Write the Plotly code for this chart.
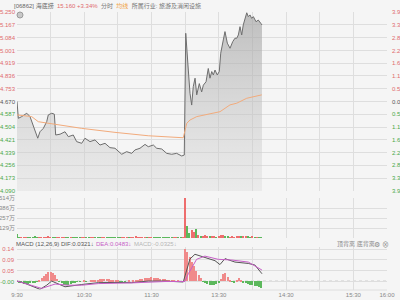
import numpy as np
import plotly.graph_objects as go

W, H = 400, 300

# ---------------- data (minutes since 9:30, lunch break removed) ----------------
price_min = [0, 1.2, 4.2, 8.7, 11.6, 14.5, 18.5, 20.5, 23.5, 26.5, 27.9, 31, 33.3, 34.5, 38.4, 42.8,
             45.8, 50.2, 53.2, 57.7, 60.6, 65.1, 69.6, 74, 78.5, 82.9, 87.4, 93.4, 97.8, 102.3,
             105.2, 109.7, 114.2, 117.1, 121.6, 124.6, 129.1, 133.5, 138, 142.4, 146.9, 149.2,
             150.5, 152.8, 154.3, 155.8, 157.2, 158.8, 160.3, 162.6, 164.7, 166.2, 168.6, 170.6,
             172.1, 173.7, 175.1, 176.6, 178.6, 180.4, 181.7, 184, 185.5, 187.6, 190, 192.4, 194.4,
             196, 197.4, 198.9, 200.4, 201.8, 204.9, 206.3, 207.8, 209.3, 210.8, 213.2, 215.2,
             217.4, 218.5]
price_val = [4.670, 4.561, 4.572, 4.594, 4.572, 4.507, 4.432, 4.474, 4.496, 4.539, 4.583, 4.594, 4.588,
             4.453, 4.458, 4.474, 4.442, 4.453, 4.410, 4.399, 4.432, 4.410, 4.421, 4.388, 4.399,
             4.371, 4.367, 4.328, 4.345, 4.334, 4.356, 4.367, 4.392, 4.377, 4.388, 4.367, 4.362,
             4.334, 4.328, 4.334, 4.317, 4.323,
             5.112, 4.874, 4.723, 4.647, 4.766, 4.821, 4.713, 4.786, 4.732, 4.776, 4.798, 4.884,
             4.821, 4.864, 4.842, 4.874, 4.842, 4.864, 4.983, 5.069, 5.123, 5.048, 5.015, 5.058,
             5.080, 5.080, 5.101, 5.155, 5.101, 5.166, 5.245, 5.220, 5.231, 5.209, 5.220, 5.187,
             5.198, 5.177, 5.166]

avg_min = [0, 7.1, 13.1, 19, 27.9, 36.8, 57.7, 87.4, 117.1, 148.3, 150.5, 151.4, 154.3, 160.3,
           181.1, 190, 196, 204.9, 218.3]
avg_val = [4.583, 4.578, 4.572, 4.539, 4.529, 4.522, 4.496, 4.470, 4.448, 4.435, 4.500, 4.529,
           4.550, 4.572, 4.604, 4.648, 4.659, 4.691, 4.713]

vol_min = list(range(0, 220, 2))
vol_val = [50, 12, 8, 6, 10, 5, 8, 12, 14, 8, 6, 5, 8, 12, 14, 6, 5, 10, 4, 5,
           3, 4, 6, 3, 3, 4, 5, 3, 3, 4, 6, 3, 3, 2, 4, 3, 3, 2, 4, 3,
           3, 5, 3, 2, 3, 3, 4, 2, 3, 3, 2, 4, 3, 14, 6, 3, 4, 3, 3, 2,
           3, 3, 2, 3, 3, 2, 3, 4, 2, 3, 3, 2, 3, 4, 6, 514, 155, 60, 100, 80,
           120, 40, 30, 25, 35, 20, 25, 15, 20, 12, 30, 40, 35, 20, 15, 12, 18, 10, 15, 20,
           25, 15, 30, 20, 12, 15, 10, 8, 12, 10]

macd_min = list(range(0, 220, 2))
macd_hist = [-0.002, -0.006, -0.010, -0.012, -0.013, -0.012, -0.010, -0.008, -0.005, -0.002,
             0.004, 0.012, 0.022, 0.032, 0.038, 0.040, 0.036, 0.025, 0.010, -0.004,
             -0.010, -0.015, -0.017, -0.016, -0.013, -0.009, -0.005, -0.003, -0.002, 0.000,
             0.001, -0.001, 0.000, 0.001, 0.002, 0.003, 0.005, 0.007, 0.008, 0.009,
             0.009, 0.008, 0.006, 0.004, 0.003, 0.001, -0.001, -0.002, -0.001, 0.000,
             0.001, 0.000, 0.001, 0.003, 0.005, 0.008, 0.010, 0.012, 0.014, 0.015,
             0.016, 0.015, 0.014, 0.013, 0.011, 0.010, 0.008, 0.006, 0.004, 0.002,
             0.001, 0.000, 0.001, 0.000, -0.001, 0.142, 0.125, 0.105, 0.085, 0.065,
             0.045, 0.028, 0.012, -0.004, -0.010, -0.014, -0.016, -0.017, -0.015, -0.012,
             -0.008, 0.010, 0.030, 0.034, 0.018, 0.004, -0.003, -0.005, 0.006, 0.012,
             0.004, -0.006, -0.010, -0.013, -0.015, -0.018, -0.020, -0.023, -0.026, -0.031]

dif_min = [0, 7.1, 20.5, 26.5, 30.9, 36.9, 42.8, 57.7, 72.5, 87.4, 102.3, 117.1, 132, 148.3,
           151.3, 154.2, 158.7, 164.7, 176.6, 181, 185.5, 194.4, 206.3, 212.2, 218.5]
dif_val = [0.0, -0.010, -0.036, -0.018, 0.0, -0.013, -0.025, -0.015, -0.007, -0.006, -0.007,
           0.0, 0.0, -0.004, 0.046, 0.096, 0.117, 0.108, 0.089, 0.072, 0.098, 0.083, 0.077,
           0.070, 0.032]
dea_min = [0, 16, 22, 34, 45.8, 57.7, 72.5, 102.3, 132, 149.8, 152.8, 160.2, 167.6, 179.5,
           191.4, 206.3, 218.5]
dea_val = [0.0, -0.025, -0.032, -0.013, -0.018, -0.018, -0.011, -0.008, -0.002, -0.002, 0.032,
           0.095, 0.109, 0.095, 0.092, 0.083, 0.048]

price_ticks = [5.250, 5.167, 5.084, 5.001, 4.919, 4.836, 4.753, 4.670,
               4.587, 4.504, 4.421, 4.339, 4.256, 4.173, 4.090]
pct_labels = ["3.92%", "3.36%", "2.80%", "2.24%", "1.68%", "1.12%", "0.56%", "0.00%",
              "0.56%", "1.12%", "1.68%", "2.24%", "2.80%", "3.36%", "3.92%"]
vol_ticks = [0, 128.5, 257, 385.5, 514]
vol_labels = ["", "129万", "257万", "386万", "514万"]
macd_ticks = [-0.0025, 0.045, 0.0925, 0.14]
macd_labels = ["-0.00", "0.05", "0.09", "0.14"]
time_ticks = list(range(0, 331, 30))
time_labels = ["9:30", "", "10:30", "", "11:30", "", "13:30", "", "14:30", "", "15:30", "16:00"]
base_price = 4.670

# ---------------- styling ----------------
RED = "#e06a6e"
GREEN = "#4aa84a"
GRID = "#dedede"
FONT = "Liberation Sans, Noto Sans CJK SC, sans-serif"
FS = 6
BG = "#f5f5f5"


def px_x(x):
    return x / W


def px_y(y):
    return 1 - y / H


def colored(vals, labels, base):
    out = []
    for v, l in zip(vals, labels):
        if abs(v - base) < 1e-9:
            c = "#555"
        elif v > base:
            c = RED
        else:
            c = GREEN
        out.append(f"<span style='color:{c}'>{l}</span>")
    return out


XDOM = [px_x(17), px_x(387)]

fig = go.Figure()

# price line with gradient fill
fig.add_trace(go.Scatter(
    x=price_min, y=price_val, mode="lines", xaxis="x", yaxis="y",
    line=dict(color="#6e6e6e", width=1), fill="tozeroy",
    fillgradient=dict(type="vertical", start=4.090, stop=5.250,
                      colorscale=[[0, "rgba(215,215,215,0.35)"], [1, "rgba(160,160,160,0.65)"]]),
    hoverinfo="skip", showlegend=False))
# average line
fig.add_trace(go.Scatter(
    x=avg_min, y=avg_val, mode="lines", xaxis="x", yaxis="y",
    line=dict(color="#f2ab7c", width=1), hoverinfo="skip", showlegend=False))
# invisible trace for right axis
fig.add_trace(go.Scatter(x=[0], y=[base_price], mode="markers", marker=dict(opacity=0),
                         xaxis="x", yaxis="y4", hoverinfo="skip", showlegend=False))

# volume
pv = np.array(price_val)
pm = np.array(price_min)
vol_colors = []
for m in vol_min:
    now = np.interp(m + 0.9, pm, pv)
    prev = np.interp(m - 1.1, pm, pv)
    vol_colors.append("#ee6d6d" if now >= prev else "#5cb85c")
fig.add_trace(go.Bar(x=vol_min, y=vol_val, width=1.2, marker=dict(color=vol_colors, line=dict(width=0)),
                     xaxis="x2", yaxis="y2", hoverinfo="skip", showlegend=False))

# MACD
hist_colors = ["#f08a8a" if v >= 0 else "#5cb85c" for v in macd_hist]
fig.add_trace(go.Bar(x=macd_min, y=macd_hist, width=1.1, marker=dict(color=hist_colors, line=dict(width=0)),
                     xaxis="x3", yaxis="y3", hoverinfo="skip", showlegend=False))
fig.add_trace(go.Scatter(x=dif_min, y=dif_val, mode="lines", line=dict(color="#555555", width=1),
                         xaxis="x3", yaxis="y3", hoverinfo="skip", showlegend=False))
fig.add_trace(go.Scatter(x=dea_min, y=dea_val, mode="lines", line=dict(color="#c75fc7", width=1),
                         xaxis="x3", yaxis="y3", hoverinfo="skip", showlegend=False))

xcommon = dict(domain=XDOM, range=[0, 330], tickvals=time_ticks, showgrid=True, gridcolor=GRID,
               gridwidth=1, zeroline=False, ticks="", fixedrange=True, automargin=False)
tickfont = dict(family=FONT, size=FS, color="#888")

fig.update_layout(
    width=W, height=H, margin=dict(l=0, r=0, t=0, b=0, autoexpand=False),
    paper_bgcolor=BG, plot_bgcolor=BG, bargap=0, barmode="overlay",
    font=dict(family=FONT, size=FS, color="#666"),
    xaxis=dict(**xcommon, anchor="y", showticklabels=False),
    xaxis2=dict(**xcommon, anchor="y2", showticklabels=False, matches="x"),
    xaxis3=dict(**xcommon, anchor="y3", showticklabels=True, ticktext=time_labels,
                tickfont=tickfont, matches="x"),
    yaxis=dict(domain=[px_y(191), px_y(12)], range=[4.090, 5.250], tickvals=price_ticks,
               ticktext=colored(price_ticks, [f"{v:.3f}" for v in price_ticks], base_price),
               tickfont=dict(family=FONT, size=FS), showgrid=True, gridcolor=GRID, zeroline=False,
               ticks="", ticklabelstandoff=1, fixedrange=True, automargin=False),
    yaxis4=dict(overlaying="y", side="right", anchor="x", range=[4.090, 5.250], tickvals=price_ticks,
                ticktext=colored(price_ticks, pct_labels, base_price),
                tickfont=dict(family=FONT, size=FS), showgrid=False, zeroline=False,
                ticks="", ticklabelstandoff=4, fixedrange=True, automargin=False),
    yaxis2=dict(domain=[px_y(238), px_y(198)], range=[0, 514], tickvals=vol_ticks, ticktext=vol_labels,
                tickfont=tickfont, showgrid=True, gridcolor=GRID, zeroline=False, ticks="",
                ticklabelstandoff=1, fixedrange=True, automargin=False),
    yaxis3=dict(domain=[px_y(290), px_y(247)], range=[-0.039, 0.1488], tickvals=macd_ticks,
                ticktext=colored(macd_ticks, macd_labels, 0.0),
                tickfont=dict(family=FONT, size=FS), showgrid=True, gridcolor=GRID, zeroline=False,
                ticks="", ticklabelstandoff=2, fixedrange=True, automargin=False),
)

shapes = [
    dict(type="line", xref="x", yref="y", x0=0, x1=330, y0=base_price, y1=base_price,
         line=dict(color="#a8a8a8", width=1), layer="below"),
    dict(type="line", xref="x3", yref="y3", x0=0, x1=330, y0=0, y1=0,
         line=dict(color="#c8c8c8", width=1, dash="dot"), layer="below"),
    dict(type="line", xref="paper", yref="paper", x0=XDOM[0], x1=XDOM[1], y0=px_y(290), y1=px_y(290),
         line=dict(color=GRID, width=1)),
    dict(type="circle", xref="paper", yref="paper", x0=px_x(17), x1=px_x(23), y0=px_y(18), y1=px_y(12),
         line=dict(color="#9a9a9a", width=1), fillcolor="#c8c8c8"),
]
fig.update_layout(shapes=shapes)

ann = []


def add_text(x, y, text, color, size=FS):
    ann.append(dict(xref="paper", yref="paper", x=px_x(x), y=px_y(y), text=text, showarrow=False,
                    xanchor="left", yanchor="middle", borderpad=0, borderwidth=0,
                    font=dict(family=FONT, size=size, color=color)))


SP = "&nbsp;&nbsp;"
header = ("[06862] 海底捞" + SP +
          f"<span style='color:{RED}'>15.160 +3.34%</span>" + SP +
          "<span style='color:#777'>分时</span>" + SP +
          "<span style='color:#f0a040'>均线</span>" + SP +
          "<span style='color:#777'>所属行业: 旅游及消闲设施</span>")
add_text(14, 6, header, "#666")

add_text(16, 244, "MACD (12,26,9)", "#555")
add_text(61, 244, "DIF:0.0321↓", "#555")
add_text(96, 244, "DEA:0.0483↓", "#c75fc7")
add_text(134, 244, "MACD:-0.0325↓", "#b5b5b5")
add_text(337, 244, "顶背离 底背离", "#888")
add_text(374, 244, "⚙", "#888", 7)
add_text(382, 244, "⊗", "#888", 7)

fig.update_layout(annotations=ann)

fig.write_html("out.html")
